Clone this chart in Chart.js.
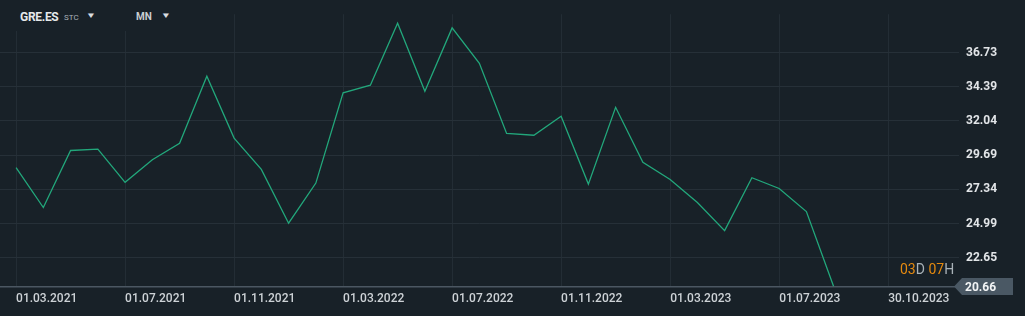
<!DOCTYPE html>
<html>
<head>
<meta charset="utf-8">
<script src="https://cdn.jsdelivr.net/npm/chart.js@4"></script>
<style>
  html, body { margin: 0; padding: 0; background: #182128; }
  #wrap { position: relative; width: 1025px; height: 316px; font-family: Roboto, "Noto Sans", sans-serif; }
  #head { position: absolute; left: 0; top: 0; width: 200px; height: 31px; background: #182128; color: #e6e9eb; }
  #head .sym { position: absolute; left: 20px; top: 10px; font-size: 12px; font-weight: 700; letter-spacing: -0.3px; }
  #head .ex { position: absolute; left: 64px; top: 13px; font-size: 8px; color: #a9b2b8; }
  #head .per { position: absolute; left: 136px; top: 11px; font-size: 10px; font-weight: 700; color: #c9ced2; }
  #head .arr { position: absolute; font-size: 8px; color: #d9dde0; top: 11px; transform: scaleX(1.3); }
  #cd { position: absolute; left: 900px; top: 261px; font-size: 14px; color: #a9b2b8; }
  #cd b { font-weight: 400; color: #e58a0f; }
</style>
</head>
<body>
<div id="wrap">
  <canvas id="myChart" width="1025" height="316"></canvas>
  <div id="head">
    <span class="sym">GRE.ES</span><span class="ex">STC</span><span class="arr" style="left:87px">&#9660;</span>
    <span class="per">MN</span><span class="arr" style="left:162px">&#9660;</span>
  </div>
  <div id="cd"><b>03</b>D <b>07</b>H</div>
</div>
<script>
// monthly closes, 03.2021 .. 09.2023
var months = ['03.2021','04.2021','05.2021','06.2021','07.2021','08.2021','09.2021','10.2021','11.2021','12.2021',
              '01.2022','02.2022','03.2022','04.2022','05.2022','06.2022','07.2022','08.2022','09.2022','10.2022',
              '11.2022','12.2022','01.2023','02.2023','03.2023','04.2023','05.2023','06.2023','07.2023','08.2023','09.2023'];
var closes = [28.83, 26.09, 30.01, 30.10, 27.82, 29.38, 30.51, 35.12, 30.86, 28.71,
              25.01, 27.77, 33.97, 34.50, 38.76, 34.08, 38.44, 36.00, 31.18, 31.06,
              32.36, 27.70, 32.98, 29.20, 28.02, 26.43, 24.50, 28.14, 27.40, 25.81, 20.66];
var priceTicks = [22.65, 24.99, 27.34, 29.69, 32.04, 34.39, 36.73];
var dateTickPos = [0, 4, 8, 12, 16, 20, 24, 28, 32];
var dateTickLabels = ['01.03.2021', '01.07.2021', '01.11.2021', '01.03.2022', '01.07.2022',
                      '01.11.2022', '01.03.2023', '01.07.2023', '30.10.2023'];
var lastPrice = 20.66;

var points = closes.map(function (v, i) { return { x: i, y: v }; });

var lastTag = {
    id: 'lastTag',
    afterDraw: function (chart) {
        var c = chart.ctx, y = chart.scales.y.getPixelForValue(lastPrice);
        var x0 = chart.chartArea.right - 5;
        c.save();
        c.fillStyle = '#4a5864';
        c.beginPath();
        c.moveTo(x0, y);
        c.lineTo(x0 + 8, y - 8.5);
        c.lineTo(1013, y - 8.5);
        c.lineTo(1013, y + 8.5);
        c.lineTo(x0 + 8, y + 8.5);
        c.closePath();
        c.fill();
        c.fillStyle = '#f2f4f5';
        c.font = 'bold 12px Roboto';
        c.textBaseline = 'middle';
        c.fillText(lastPrice.toFixed(2), 965, y + 1);
        c.restore();
    }
};

var ctx = document.getElementById('myChart').getContext('2d');
var myChart = new Chart(ctx, {
    type: 'line',
    data: {
        datasets: [{
            data: points,
            borderColor: '#22a77b',
            borderWidth: 1.3,
            pointRadius: 0,
            tension: 0,
            fill: false
        }]
    },
    options: {
        responsive: false,
        animation: false,
        layout: { padding: { top: 10 } },
        plugins: { legend: { display: false }, tooltip: { enabled: false } },
        scales: {
            x: {
                type: 'linear',
                min: -0.59,
                max: 34.6,
                afterBuildTicks: function (s) { s.ticks = dateTickPos.map(function (v) { return { value: v }; }); },
                afterFit: function (s) { s.height = 29.5; },
                grid: { color: '#232d35', drawTicks: false },
                border: { color: '#4b5762', width: 1.5 },
                ticks: {
                    align: 'start',
                    padding: 5,
                    color: '#cdd2d6',
                    font: { family: 'Roboto', size: 12, weight: '500' },
                    callback: function (v) { return dateTickLabels[dateTickPos.indexOf(v)] || ''; }
                }
            },
            y: {
                position: 'right',
                min: lastPrice,
                max: 39.38,
                afterBuildTicks: function (s) { s.ticks = priceTicks.map(function (v) { return { value: v }; }); },
                afterFit: function (s) { s.width = 66; },
                grid: { color: '#263038', drawTicks: false },
                border: { display: false },
                ticks: {
                    padding: 7,
                    color: '#e2e5e8',
                    font: { family: 'Roboto', size: 12, weight: 'bold' },
                    callback: function (v) { return v.toFixed(2); }
                }
            }
        }
    },
    plugins: [lastTag]
});
</script>
</body>
</html>
